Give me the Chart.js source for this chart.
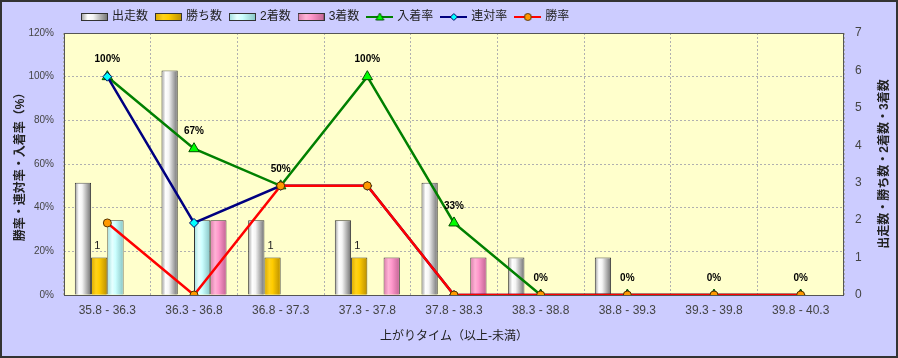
<!DOCTYPE html>
<html><head><meta charset="utf-8">
<script src="https://cdn.jsdelivr.net/npm/chart.js@4"></script>
<style>
html,body{margin:0;padding:0;background:#CCCCFF;}
#wrap{width:898px;height:358px;box-sizing:border-box;border:2px solid #333;background:#CCCCFF;}
canvas{display:block;}
</style></head><body>
<div id="wrap"><canvas id="c" width="894" height="354"></canvas></div>
<script>
const categories = ['35.8 - 36.3','36.3 - 36.8','36.8 - 37.3','37.3 - 37.8','37.8 - 38.3','38.3 - 38.8','38.8 - 39.3','39.3 - 39.8','39.8 - 40.3'];
const runs    = [3, 6, 2, 2, 3, 1, 1, 0, 0];
const wins    = [1, 0, 1, 1, 0, 0, 0, 0, 0];
const seconds = [2, 2, 0, 0, 0, 0, 0, 0, 0];
const thirds  = [0, 2, 0, 1, 1, 0, 0, 0, 0];
const placeRate    = [100, 67, 50, 100, 33, 0, 0, 0, 0];
const quinellaRate = [100, 33, 50, 50, 0, 0, 0, 0, 0];
const winRate      = [33, 0, 50, 50, 0, 0, 0, 0, 0];
const seriesNames = ['出走数','勝ち数','2着数','3着数','入着率','連対率','勝率'];
const leftTitle = '勝率・連対率・入着率（%）';
const rightTitle = '出走数・勝ち数・2着数・3着数';
const xTitle = '上がりタイム（以上-未満）';
const leftMax = 120, leftStep = 20;
const rightMax = 7, rightStep = 1;

const FONT = "'Liberation Sans', 'Noto Sans CJK JP', sans-serif";
Chart.defaults.font.family = FONT;

const barStops = [
  [[0,'#9a9a9a'],[0.25,'#ffffff'],[0.45,'#f4f4f4'],[1,'#707070']],
  [[0,'#d9a800'],[0.3,'#ffd21a'],[0.5,'#ffcc00'],[1,'#b98e00']],
  [[0,'#9fdede'],[0.3,'#e6ffff'],[0.5,'#ccffff'],[1,'#86c4c4']],
  [[0,'#d97aa9'],[0.3,'#ffb3d6'],[0.5,'#ff99cc'],[1,'#c26293']]
];
const barBase = ['#dddddd','#ffcc00','#ccffff','#ff99cc'];
const lineColors = ['#008000','#000080','#ff0000'];
const markerFill = ['#00ff00','#00ffff','#ff9900'];
const markerBorder = ['#005000','#000060','#553300'];
const markerStyle = ['triangle','rectRot','circle'];
const markerRadius = [6, 4.5, 4];

function makeBarIcon(stops){
  const c = document.createElement('canvas'); c.width = 27; c.height = 10;
  const x = c.getContext('2d');
  const g = x.createLinearGradient(0,0,27,0);
  stops.forEach(s => g.addColorStop(s[0], s[1]));
  x.fillStyle = g; x.fillRect(1,2,25,6);
  x.strokeStyle = '#333'; x.lineWidth = 1; x.strokeRect(0.5,1.5,26,7);
  return c;
}
function makeLineIcon(i){
  const c = document.createElement('canvas'); c.width = 27; c.height = 12;
  const x = c.getContext('2d');
  x.strokeStyle = lineColors[i]; x.lineWidth = 2;
  x.beginPath(); x.moveTo(0,6); x.lineTo(27,6); x.stroke();
  x.fillStyle = markerFill[i]; x.strokeStyle = markerBorder[i]; x.lineWidth = 1;
  x.beginPath();
  if (markerStyle[i] === 'triangle') { x.moveTo(13.5,2); x.lineTo(17.5,9); x.lineTo(9.5,9); x.closePath(); }
  else if (markerStyle[i] === 'rectRot') { x.moveTo(13.5,2.5); x.lineTo(17,6); x.lineTo(13.5,9.5); x.lineTo(10,6); x.closePath(); }
  else { x.arc(13.5,6,3.5,0,Math.PI*2); }
  x.fill(); x.stroke();
  return c;
}
const icons = [makeBarIcon(barStops[0]),makeBarIcon(barStops[1]),makeBarIcon(barStops[2]),makeBarIcon(barStops[3]),makeLineIcon(0),makeLineIcon(1),makeLineIcon(2)];

const barSeries = [runs, wins, seconds, thirds];
const lineSeries = [placeRate, quinellaRate, winRate];

const datasets = [];
barSeries.forEach((d, i) => datasets.push({
  type: 'bar', label: seriesNames[i], data: d, yAxisID: 'y1', order: 10,
  backgroundColor: barBase[i], borderColor: '#333', borderWidth: 1,
  barPercentage: 1.0, categoryPercentage: 0.75
}));
lineSeries.forEach((d, i) => datasets.push({
  type: 'line', label: seriesNames[4 + i], data: d, yAxisID: 'y', order: 3 - i,
  borderColor: lineColors[i], borderWidth: 2.5, tension: 0, fill: false,
  pointStyle: markerStyle[i], pointRadius: markerRadius[i], pointHoverRadius: markerRadius[i],
  pointBackgroundColor: markerFill[i], pointBorderColor: markerBorder[i], pointBorderWidth: 1
}));

const framePlugin = {
  id: 'frame',
  afterLayout(chart) { if (chart.legend) { chart.legend.left += 10; chart.legend.right += 10; } },
  beforeDraw(chart) {
    const a = chart.chartArea, ctx = chart.ctx;
    ctx.save(); ctx.fillStyle = '#FFFFCC';
    ctx.fillRect(a.left, a.top, a.right - a.left, a.bottom - a.top); ctx.restore();
  },
  beforeDatasetsDraw(chart) {
    const a = chart.chartArea, ctx = chart.ctx;
    ctx.save(); ctx.strokeStyle = '#555'; ctx.lineWidth = 1;
    ctx.strokeRect(a.left + 0.5, a.top + 0.5, a.right - a.left - 1, a.bottom - a.top);
    ctx.restore();
  },
  afterDatasetDraw(chart, args) {
    const idx = args.index;
    if (idx > 3) return;
    const ctx = chart.ctx, stops = barStops[idx];
    ctx.save();
    args.meta.data.forEach(el => {
      const p = el.getProps(['x','y','base','width'], true);
      const h = p.base - p.y;
      if (!(h > 1)) return;
      const l = p.x - p.width / 2;
      const g = ctx.createLinearGradient(l, 0, l + p.width, 0);
      stops.forEach(s => g.addColorStop(s[0], s[1]));
      ctx.fillStyle = g;
      ctx.fillRect(l + 1, p.y + 1, p.width - 2, h - 1);
    });
    ctx.restore();
  },
  afterDatasetsDraw(chart) {
    const ctx = chart.ctx;
    ctx.save();
    ctx.textAlign = 'center'; ctx.textBaseline = 'middle'; ctx.fillStyle = '#000';
    ctx.font = 'bold 10px ' + FONT;
    chart.getDatasetMeta(4).data.forEach((pt, i) => {
      ctx.fillText(placeRate[i] + '%', pt.x, pt.y - 17);
    });
    ctx.font = '11px ' + FONT; ctx.fillStyle = '#222';
    chart.getDatasetMeta(1).data.forEach((bar, i) => {
      if (wins[i] > 0) ctx.fillText(String(wins[i]), bar.x - 2, bar.y - 12);
    });
    ctx.restore();
  },
  afterDraw(chart) {
    const a = chart.chartArea, ctx = chart.ctx;
    ctx.save();
    ctx.translate(883, (a.top + a.bottom) / 2);
    ctx.rotate(-Math.PI / 2);
    ctx.font = 'bold 12px ' + FONT; ctx.fillStyle = '#222';
    ctx.textAlign = 'center'; ctx.textBaseline = 'middle';
    ctx.fillText(rightTitle, 0, 0);
    ctx.restore();
  }
};

new Chart(document.getElementById('c'), {
  type: 'bar',
  data: { labels: categories, datasets },
  options: {
    responsive: false, animation: false, events: [],
    layout: { padding: { top: 0, left: 0, right: 0, bottom: 0 } },
    plugins: {
      tooltip: { enabled: false },
      legend: {
        position: 'top', align: 'start', fullSize: false,
        labels: {
          usePointStyle: true, pointStyleWidth: 23, padding: 9, color: '#222',
          font: { size: 12 },
          generateLabels: (chart) => chart.data.datasets.map((ds, i) => ({
            text: ds.label, pointStyle: icons[i], datasetIndex: i, hidden: false,
            lineWidth: 0, strokeStyle: 'rgba(0,0,0,0)', fillStyle: 'rgba(0,0,0,0)', fontColor: '#222'
          }))
        }
      }
    },
    scales: {
      x: {
        offset: true,
        grid: { offset: true, color: '#b0b0b0', drawTicks: false, lineWidth: 1 },
        border: { display: false, dash: [2, 2] },
        ticks: { padding: 8, color: '#444', font: { size: 12 }, maxRotation: 0, autoSkip: false },
        title: { display: true, text: xTitle, color: '#222', font: { size: 12 }, padding: { top: 0, bottom: 12 } },
        afterFit: (s) => { s.height = 61; }
      },
      y: {
        position: 'left', min: 0, max: leftMax,
        grid: { color: '#b0b0b0', drawTicks: false },
        border: { display: false, dash: [2, 2] },
        ticks: { stepSize: leftStep, padding: 10, color: '#444', font: { size: 10 }, callback: (v) => v + '%' },
        title: { display: true, text: leftTitle, color: '#222', font: { size: 12, weight: 'bold' }, padding: { top: 11, bottom: 0 } },
        afterFit: (s) => { s.width = 62; }
      },
      y1: {
        position: 'right', min: 0, max: rightMax,
        grid: { drawOnChartArea: false, drawTicks: false },
        border: { display: false },
        ticks: { stepSize: rightStep, padding: 11, color: '#444', font: { size: 12 } },
        afterFit: (s) => { s.width = 52; }
      }
    }
  },
  plugins: [framePlugin]
});
</script>
</body></html>
